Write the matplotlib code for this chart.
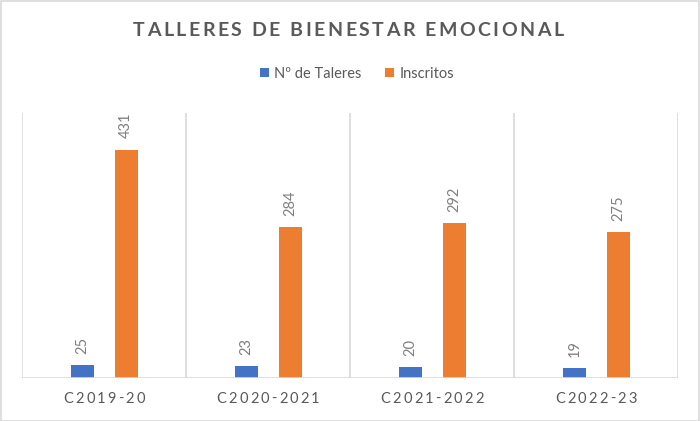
import matplotlib
matplotlib.use("Agg")
import matplotlib.pyplot as plt
import numpy as np
from matplotlib.patches import Rectangle

categories = ["C2019-20", "C2020-2021", "C2021-2022", "C2022-23"]
talleres = [25, 23, 20, 19]
inscritos = [431, 284, 292, 275]
series_names = ["Nº de Taleres", "Inscritos"]
title = "TALLERES DE BIENESTAR EMOCIONAL"

BLUE = "#4472C4"
ORANGE = "#ED7D31"
GRID = "#D9D9D9"
TXT = "#595959"
FONT = ["Lato", "DejaVu Sans"]

plt.rcParams['font.family'] = FONT

W, H = 700, 421
fig = plt.figure(figsize=(7, 4.21), dpi=100)
fig.patches.append(Rectangle((0.5 / W, 0.5 / H), 1 - 1.5 / W, 1 - 1.5 / H,
                             transform=fig.transFigure, fill=False,
                             edgecolor=GRID, linewidth=1.2))

ax = fig.add_axes([22 / W, 1 - 378 / H, (678 - 22) / W, (378 - 113) / H])
x = np.arange(len(categories))
bw = 0.14
b1 = ax.bar(x - 0.13, talleres, width=bw, color=BLUE, label=series_names[0])
b2 = ax.bar(x + 0.135, inscritos, width=bw, color=ORANGE, label=series_names[1])

for bars, vals in ((b1, talleres), (b2, inscritos)):
    for r, v in zip(bars, vals):
        ax.annotate(str(v), (r.get_x() + r.get_width() / 2, r.get_height()),
                    xytext=(0, 8), textcoords="offset points",
                    rotation=90, ha="center", va="bottom",
                    fontsize=10.5, color="#7F7F7F")

ax.set_xlim(-0.5, len(categories) - 0.5)
ax.set_ylim(0, 500)
for xv in np.arange(-0.5, len(categories), 1.0):
    ax.axvline(xv, color=GRID, linewidth=1.2, zorder=0)
for s in ax.spines.values():
    s.set_visible(False)
ax.axhline(0, color=GRID, linewidth=1.2, zorder=3)
ax.set_yticks([])
ax.set_xticks(x)
ax.set_xticklabels([])
ax.tick_params(length=0)

fig.canvas.draw()
renderer = fig.canvas.get_renderer()


def spaced_text(s, cx, cy, spacing_px, **kw):
    widths = []
    for ch in s:
        t = fig.text(0, 0, ch if ch != " " else "a a", **kw)
        bb = t.get_window_extent(renderer)
        if ch == " ":
            t2 = fig.text(0, 0, "aa", **kw)
            wa = t2.get_window_extent(renderer).width
            t2.remove()
            widths.append(bb.width - wa)
        else:
            widths.append(bb.width)
        t.remove()
    total = sum(widths) + spacing_px * (len(s) - 1)
    xpos = cx - total / 2
    for ch, w in zip(s, widths):
        if ch != " ":
            fig.text(xpos / W, 1 - cy / H, ch, ha="left", va="center", **kw)
        xpos += w + spacing_px


spaced_text(title, 348, 31, 2.5, fontsize=14, fontweight="bold", color=TXT)

for i, c in enumerate(categories):
    px = ax.transData.transform((x[i], 0))[0]
    spaced_text(c, px, 399, 2.2, fontsize=10.5, color=TXT)

leg = fig.legend(handles=[b1, b2], labels=series_names, loc="center",
                 bbox_to_anchor=(357 / W, 1 - 74 / H), ncol=2, frameon=False,
                 fontsize=10.5, labelcolor=TXT, handlelength=0.6,
                 handleheight=0.6, handletextpad=0.4, columnspacing=1.6)

fig.savefig("out.png", dpi=100)
